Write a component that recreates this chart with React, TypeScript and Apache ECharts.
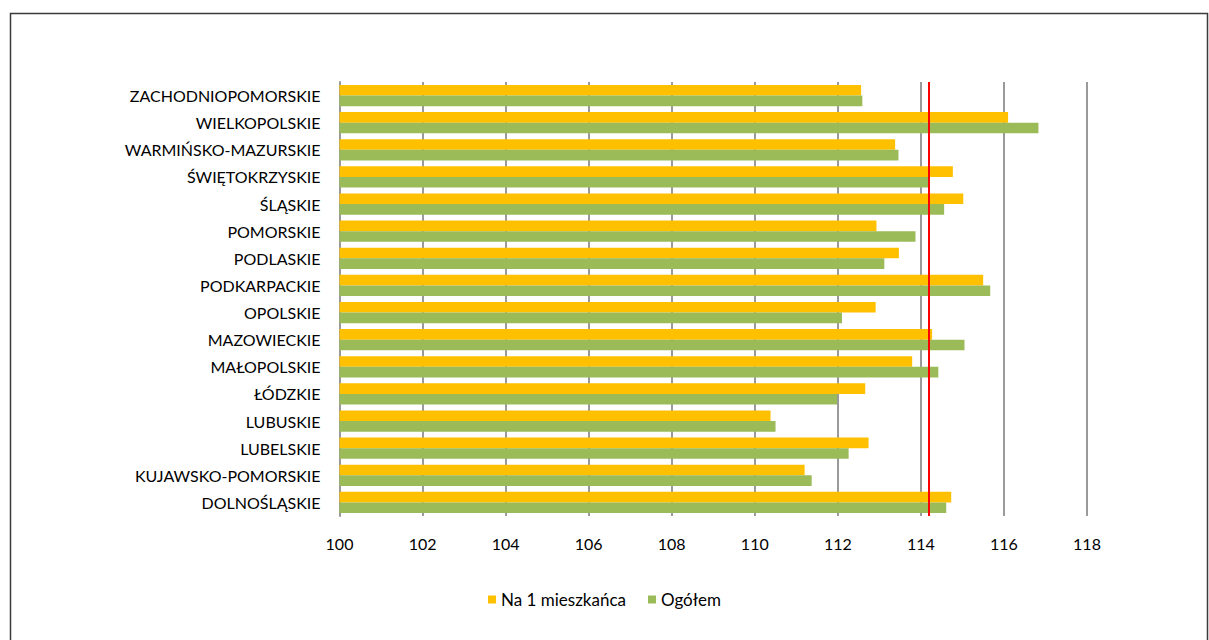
import React, { useEffect, useRef } from "react";
import * as echarts from "echarts";

const categories = [
  "DOLNOŚLĄSKIE",
  "KUJAWSKO-POMORSKIE",
  "LUBELSKIE",
  "LUBUSKIE",
  "ŁÓDZKIE",
  "MAŁOPOLSKIE",
  "MAZOWIECKIE",
  "OPOLSKIE",
  "PODKARPACKIE",
  "PODLASKIE",
  "POMORSKIE",
  "ŚLĄSKIE",
  "ŚWIĘTOKRZYSKIE",
  "WARMIŃSKO-MAZURSKIE",
  "WIELKOPOLSKIE",
  "ZACHODNIOPOMORSKIE",
];

const naMieszkanca = [
  114.73, 111.2, 112.74, 110.38, 112.66, 113.79, 114.27, 112.91, 115.5, 113.47,
  112.93, 115.02, 114.77, 113.38, 116.1, 112.56,
];

const ogolem = [
  114.61, 111.37, 112.26, 110.5, 111.98, 114.42, 115.05, 112.1, 115.67, 113.12,
  113.87, 114.56, 114.2, 113.46, 116.83, 112.59,
];

const referenceValue = 114.2;

const FONT = "Lato";

export default function App() {
  const ref = useRef<HTMLDivElement>(null);

  useEffect(() => {
    if (!ref.current) return;
    const chart = echarts.init(ref.current, undefined, { renderer: "svg" });
    chart.setOption({
      animation: false,
      backgroundColor: "#ffffff",
      textStyle: { fontFamily: FONT },
      graphic: [
        {
          type: "rect",
          shape: { x: 10.5, y: 13.5, width: 1197, height: 640 },
          style: { fill: "none", stroke: "#3a3a3a", lineWidth: 1.5 },
          silent: true,
        },
      ],
      legend: {
        data: ["Na 1 mieszkańca", "Ogółem"],
        bottom: 27,
        left: "center",
        itemWidth: 8,
        itemHeight: 8,
        itemGap: 22,
        icon: "rect",
        textStyle: { fontFamily: FONT, fontSize: 17, color: "#000" },
      },
      grid: { left: 339.5, right: 122, top: 82, bottom: 124, containLabel: false },
      xAxis: {
        type: "value",
        min: 100,
        max: 118,
        interval: 2,
        axisLine: { show: false },
        axisTick: { show: false },
        axisLabel: { color: "#000", fontSize: 16, fontFamily: FONT, margin: 19 },
        splitLine: { show: true, lineStyle: { color: "#9a9a9a", width: 2 } },
      },
      yAxis: {
        type: "category",
        data: categories,
        axisLine: { show: true, lineStyle: { color: "#9a9a9a", width: 2 } },
        axisTick: { show: false },
        axisLabel: { color: "#000", fontSize: 16, fontFamily: FONT, margin: 19 },
      },
      series: [
        {
          name: "Na 1 mieszkańca",
          type: "bar",
          data: naMieszkanca,
          itemStyle: { color: "#FFC000" },
          barGap: "0%",
          barCategoryGap: "22%",
          markLine: {
            silent: true,
            symbol: ["none", "none"],
            label: { show: false },
            lineStyle: { color: "#FF0000", width: 2, type: "solid" },
            data: [{ xAxis: referenceValue }],
          },
        },
        {
          name: "Ogółem",
          type: "bar",
          data: ogolem,
          itemStyle: { color: "#9BBB59" },
          barGap: "0%",
          barCategoryGap: "22%",
        },
      ],
    });
    return () => chart.dispose();
  }, []);

  return (
    <div
      ref={ref}
      style={{ position: "fixed", left: 0, top: 0, width: 1209, height: 640 }}
    />
  );
}
